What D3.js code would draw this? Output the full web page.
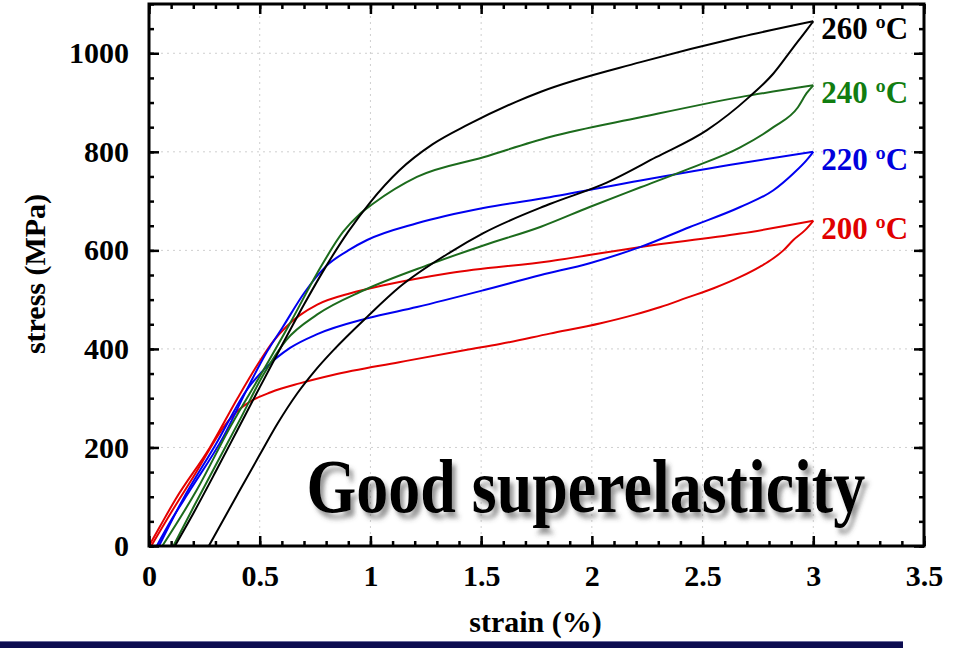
<!DOCTYPE html>
<html>
<head>
<meta charset="utf-8">
<script src="https://cdn.jsdelivr.net/npm/d3@7/dist/d3.min.js"></script>
<style>
	body { margin: 0; background: #fff; }
	svg { display: block; font-family: 'Liberation Serif', 'Times New Roman', serif; font-weight: bold; }
</style>
</head>
<body>
<div id="chart"></div>
<script>
	'use strict';

	// strain (%) / stress (MPa) pairs, loading and unloading branches
	var load200 = [[0, 0], [0.05, 40], [0.12, 95], [0.275, 200], [0.4, 300], [0.5, 375], [0.56, 415], [0.62, 445], [0.68, 468],
		[0.76, 490], [0.91, 513], [1.06, 529], [1.36, 554], [1.81, 578], [2.22, 607], [2.67, 634], [3.0, 660]];
	var unload200 = [[3.0, 660], [2.963, 641], [2.91, 621], [2.865, 600], [2.82, 584], [2.76, 567], [2.67, 546], [2.55, 523],
		[2.43, 504], [2.31, 485], [2.19, 469], [2.04, 452], [1.81, 431], [1.585, 410], [1.43, 398], [1.13, 373], [0.83, 347],
		[0.68, 330], [0.55, 312], [0.46, 294], [0.41, 278], [0.36, 255], [0.2, 140], [0.1, 68], [0.01, 0]];

	var load220 = [[0.035, 0], [0.1, 52], [0.185, 113], [0.335, 221], [0.456, 330], [0.53, 392], [0.605, 445], [0.7, 513],
		[0.8, 568], [0.9, 600], [0.985, 621], [1.21, 655], [1.51, 686], [1.81, 708], [2.22, 742], [2.67, 777], [3.0, 800]];
	var unload220 = [[3.0, 800], [2.97, 783], [2.91, 756], [2.82, 722], [2.67, 688], [2.44, 647], [2.22, 607], [1.99, 574],
		[1.77, 550], [1.51, 519], [1.21, 485], [0.985, 462], [0.76, 430], [0.637, 402], [0.53, 363], [0.45, 322], [0.3, 205],
		[0.15, 92], [0.045, 0]];

	var load240 = [[0.06, 0], [0.215, 113], [0.366, 241], [0.517, 357], [0.637, 452], [0.76, 554], [0.877, 638], [0.95, 673],
		[1.01, 694], [1.21, 749], [1.51, 789], [1.81, 830], [2.22, 870], [2.67, 911], [3.0, 935]];
	var unload240 = [[3.0, 935], [2.97, 919], [2.93, 890], [2.82, 850], [2.67, 809], [2.44, 766], [2.22, 728], [1.99, 688],
		[1.77, 648], [1.51, 610], [1.27, 572], [0.97, 519], [0.76, 470], [0.62, 418], [0.517, 348], [0.41, 256], [0.3, 163],
		[0.2, 78], [0.11, 0]];

	var load260 = [[0.117, 0], [0.2, 66], [0.3, 150], [0.4, 236], [0.5, 322], [0.6, 407], [0.7, 490], [0.8, 568], [0.9, 638],
		[1.0, 698], [1.13, 762], [1.28, 815], [1.44, 855], [1.66, 902], [1.77, 922], [2.22, 982], [2.67, 1033], [3.0, 1065]];
	var unload260 = [[3.0, 1065], [2.97, 1047], [2.91, 1012], [2.82, 959], [2.71, 911], [2.52, 844], [2.29, 789], [2.07, 738],
		[1.81, 694], [1.51, 635], [1.36, 596], [1.13, 525], [0.985, 465], [0.83, 396], [0.75, 356], [0.67, 310], [0.58, 248],
		[0.5, 185], [0.4, 105], [0.27, 0]];

	var seriesLabels = ['260 ºC', '240 ºC', '220 ºC', '200 ºC'];
	var xTickValues = [0, 0.5, 1, 1.5, 2, 2.5, 3, 3.5];
	var xTickLabels = ['0', '0.5', '1', '1.5', '2', '2.5', '3', '3.5'];
	var yTickValues = [0, 200, 400, 600, 800, 1000];
	var yTickLabels = ['0', '200', '400', '600', '800', '1000'];

	var series = [
		{label: seriesLabels[0], load: load260, unload: unload260, color: '#000000', text: '#000000'},
		{label: seriesLabels[1], load: load240, unload: unload240, color: '#1c6b1c', text: '#117d11'},
		{label: seriesLabels[2], load: load220, unload: unload220, color: '#0000f0', text: '#0000dd'},
		{label: seriesLabels[3], load: load200, unload: unload200, color: '#e40000', text: '#e00000'}
	];

	var width = 961, height = 648;
	var margin = {top: 4, right: 37, bottom: 102, left: 149};
	var plotW = width - margin.left - margin.right,
		plotH = height - margin.top - margin.bottom;

	var svg = d3.select('#chart').append('svg')
		.attr('width', width)
		.attr('height', height);

	var defs = svg.append('defs');
	var shadow = defs.append('filter').attr('id', 'shadow')
		.attr('x', '-10%').attr('y', '-20%').attr('width', '130%').attr('height', '160%');
	shadow.append('feDropShadow')
		.attr('dx', 4).attr('dy', 5).attr('stdDeviation', 2.2)
		.attr('flood-color', '#444').attr('flood-opacity', 0.55);

	var g = svg.append('g')
		.attr('transform', 'translate(' + margin.left + ',' + margin.top + ')');

	var x = d3.scaleLinear().domain([0, 3.5]).range([0, plotW]);
	var y = d3.scaleLinear().domain([0, 1100]).range([plotH, 0]);

	// dotted grid
	g.append('g').selectAll('line')
		.data(xTickValues.slice(1, -1))
		.enter().append('line')
		.attr('x1', function (d) { return x(d); })
		.attr('x2', function (d) { return x(d); })
		.attr('y1', 0).attr('y2', plotH)
		.attr('stroke', '#cfcfcf').attr('stroke-width', 1).attr('stroke-dasharray', '2,4');
	g.append('g').selectAll('line')
		.data(yTickValues.slice(1))
		.enter().append('line')
		.attr('x1', 0).attr('x2', plotW)
		.attr('y1', function (d) { return y(d); })
		.attr('y2', function (d) { return y(d); })
		.attr('stroke', '#cfcfcf').attr('stroke-width', 1).attr('stroke-dasharray', '2,4');

	// the big note
	g.append('text')
		.attr('transform', 'translate(' + (x(0.72) - 2) + ',' + (y(0) - 34) + ') scale(1,1.18)')
		.attr('font-size', 64)
		.attr('fill', '#000')
		.attr('filter', 'url(#shadow)')
		.text('Good superelasticity');

	// loops
	var line = d3.line()
		.x(function (d) { return x(d[0]); })
		.y(function (d) { return y(d[1]); })
		.curve(d3.curveMonotoneX);

	series.slice().reverse().forEach(function (s) {
		// unloading runs from high to low strain, flip it so the curve sees rising x
		[s.load, s.unload.slice().reverse()].forEach(function (branch) {
			g.append('path')
				.datum(branch)
				.attr('fill', 'none')
				.attr('stroke', s.color)
				.attr('stroke-width', 2)
				.attr('stroke-linejoin', 'round')
				.attr('d', line);
		});
	});

	// labels at the loop tips
	series.forEach(function (s) {
		var tip = s.load[s.load.length - 1];
		g.append('text')
			.attr('x', x(tip[0]) + 8)
			.attr('y', y(tip[1]) + 18)
			.attr('font-size', 31)
			.attr('fill', s.text)
			.text(s.label);
	});

	// axes, ticks pointing inward
	var xMinor = d3.range(0, 36).map(function (i) { return i / 10; });
	var yMinor = d3.range(0, 23).map(function (i) { return i * 50; });

	function styleAxis(sel) {
		sel.attr('font-family', null).attr('font-size', null);
		sel.select('.domain').remove();
		sel.selectAll('.tick line').attr('stroke', '#000').attr('stroke-width', 2.5);
		sel.selectAll('text').attr('font-size', 30).attr('fill', '#000');
	}

	g.append('g').attr('transform', 'translate(0,' + plotH + ')')
		.call(d3.axisBottom(x).tickValues(xMinor).tickSize(-5).tickFormat(''))
		.call(styleAxis);
	g.append('g').attr('transform', 'translate(0,' + plotH + ')')
		.call(d3.axisBottom(x).tickValues(xTickValues).tickSize(-10).tickPadding(19)
			.tickFormat(function (d, i) { return xTickLabels[i]; }))
		.call(styleAxis);
	g.append('g')
		.call(d3.axisTop(x).tickValues(xMinor).tickSize(-5).tickFormat(''))
		.call(styleAxis);
	g.append('g')
		.call(d3.axisTop(x).tickValues(xTickValues).tickSize(-10).tickFormat(''))
		.call(styleAxis);

	g.append('g')
		.call(d3.axisLeft(y).tickValues(yMinor).tickSize(-5).tickFormat(''))
		.call(styleAxis);
	g.append('g')
		.call(d3.axisLeft(y).tickValues(yTickValues).tickSize(-10).tickPadding(20)
			.tickFormat(function (d, i) { return yTickLabels[i]; }))
		.call(styleAxis);
	g.append('g').attr('transform', 'translate(' + plotW + ',0)')
		.call(d3.axisRight(y).tickValues(yMinor).tickSize(-5).tickFormat(''))
		.call(styleAxis);
	g.append('g').attr('transform', 'translate(' + plotW + ',0)')
		.call(d3.axisRight(y).tickValues(yTickValues).tickSize(-10).tickFormat(''))
		.call(styleAxis);

	g.append('rect')
		.attr('width', plotW).attr('height', plotH)
		.attr('fill', 'none').attr('stroke', '#000').attr('stroke-width', 3);

	// axis titles
	svg.append('text')
		.attr('x', margin.left + plotW / 2 - 1)
		.attr('y', 632)
		.attr('text-anchor', 'middle')
		.attr('font-size', 30)
		.text('strain (%)');
	svg.append('text')
		.attr('transform', 'translate(45,274) rotate(-90)')
		.attr('text-anchor', 'middle')
		.attr('font-size', 30)
		.text('stress (MPa)');

	// slide footer bar
	svg.append('rect')
		.attr('x', 0).attr('y', 641).attr('width', 903).attr('height', 7)
		.attr('fill', '#0c0c50');
	svg.append('rect')
		.attr('x', 0).attr('y', 641).attr('width', 903).attr('height', 1)
		.attr('fill', '#6b6b9b');
</script>
</body>
</html>
